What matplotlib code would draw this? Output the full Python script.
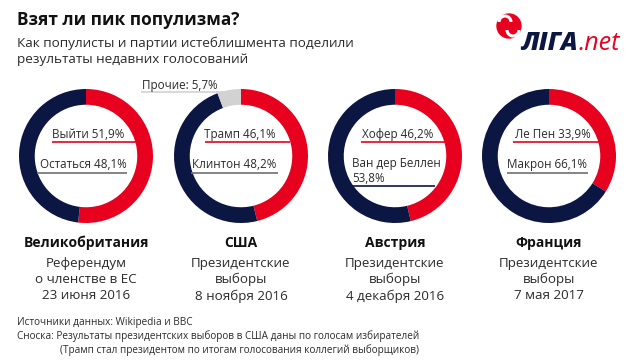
import matplotlib
matplotlib.use("Agg")
import matplotlib.pyplot as plt
from matplotlib.patches import Circle, Arc

# ---- data ----
countries = ["Великобритания", "США", "Австрия", "Франция"]
descriptions = ["Референдум\nо членстве в ЕС\n23 июня 2016",
                "Президентские\nвыборы\n8 ноября 2016",
                "Президентские\nвыборы\n4 декабря 2016",
                "Президентские\nвыборы\n7 мая 2017"]
populist_names = ["Выйти", "Трамп", "Хофер", "Ле Пен"]
populist_values = [51.9, 46.1, 46.2, 33.9]
establishment_names = ["Остаться", "Клинтон", "Ван дер Беллен\n", "Макрон"]
establishment_values = [48.1, 48.2, 53.8, 66.1]
other_values = [0.0, 5.7, 0.0, 0.0]
other_label = "Прочие"

RED = "#E8001F"
NAVY = "#0B1643"
LGRAY = "#D2D2D2"
ULGRAY = "#6E6E74"
TXT = "#2B2B2B"

W, H = 640, 364
fig = plt.figure(figsize=(W / 100, H / 100), dpi=100)
fig.patch.set_facecolor("white")

centers_x = [86, 241, 395, 549]
cy = 156
R = 67

def fmt(v):
    return f"{v:.1f}%".replace(".", ",")

for i, cx in enumerate(centers_x):
    pax = fig.add_axes([(cx - R) / W, (H - cy - R) / H, 2 * R / W, 2 * R / H])
    vals = [populist_values[i], establishment_values[i]]
    cols = [RED, NAVY]
    if other_values[i] > 0:
        vals.append(other_values[i])
        cols.append(LGRAY)
    pax.pie(vals, colors=cols, startangle=90, counterclock=False, radius=1,
            wedgeprops=dict(width=0.235, edgecolor="none"))
    pax.set_xlim(-1, 1)
    pax.set_ylim(-1, 1)
    pax.axis("off")

ax = fig.add_axes([0, 0, 1, 1])
ax.set_xlim(0, W)
ax.set_ylim(H, 0)
ax.axis("off")
ax.patch.set_alpha(0)

LF = "Open Sans"
lfs = 8.4

# populist labels (text centre x offset, line start/end offsets)
pop_layout = [(2, -34, 51), (-1, -36, 49), (3, -34, 51), (4, -36, 50)]
est_layout = [(-3, -49, 41), (-7, -50, 37), None, (-2, -42, 39)]

for i, cx in enumerate(centers_x):
    dx, l0, l1 = pop_layout[i]
    ax.text(cx + dx, 134.5, f"{populist_names[i]} {fmt(populist_values[i])}",
            ha="center", va="center", fontsize=lfs, family=LF, color=TXT)
    ax.plot([cx + l0, cx + l1], [142, 142], color=RED, lw=1.2, solid_capstyle="butt")
    if est_layout[i] is not None:
        dx, l0, l1 = est_layout[i]
        ax.text(cx + dx, 164.5, f"{establishment_names[i]} {fmt(establishment_values[i])}",
                ha="center", va="center", fontsize=lfs, family=LF, color=TXT)
        ax.plot([cx + l0, cx + l1], [173, 173], color=ULGRAY, lw=1.2, solid_capstyle="butt")
    else:
        ax.text(cx - 43, 171.5, f"{establishment_names[i]}{fmt(establishment_values[i])}",
                ha="left", va="center", fontsize=lfs, family=LF, color=TXT,
                linespacing=1.2)
        ax.plot([cx - 43, cx + 40], [186, 186], color=NAVY, lw=1.2, solid_capstyle="butt")
    if other_values[i] > 0:
        ax.text(cx - 99, 85, f"{other_label}: {fmt(other_values[i])}",
                ha="left", va="center", fontsize=lfs, family=LF, color=TXT)
        ax.plot([cx - 100, cx - 15], [91.5, 91.5], color=LGRAY, lw=1.2, solid_capstyle="butt")

    ax.text(cx, 243, countries[i], ha="center", va="center", fontsize=10,
            family=LF, weight="bold", color="#111111")
    ax.text(cx, 256.5, descriptions[i], ha="center", va="top", fontsize=9.6,
            family=LF, color=TXT, linespacing=1.32)

# title & subtitle
ax.text(17, 20, "Взят ли пик популизма?", ha="left", va="center", fontsize=12.4,
        family=LF, weight="bold", color="#111111")
ax.text(17, 51, "Как популисты и партии истеблишмента поделили\nрезультаты недавних голосований",
        ha="left", va="center", fontsize=9.7, family=LF, color=TXT, linespacing=1.3)

# footer
ffs = 7.2
ax.text(17, 322, "Источники данных: Wikipedia и BBC", ha="left", va="center",
        fontsize=ffs, family=LF, color=TXT)
ax.text(17, 336, "Сноска: Результаты президентских выборов в США даны по голосам избирателей",
        ha="left", va="center", fontsize=ffs, family=LF, color=TXT)
ax.text(60, 350, "(Трамп стал президентом по итогам голосования коллегий выборщиков)",
        ha="left", va="center", fontsize=ffs, family=LF, color=TXT)

# logo
ax.add_patch(Circle((509, 26), 12, color=RED, zorder=5))
ax.add_patch(Arc((505, 22), 12, 12, theta1=180, theta2=360, color="white", lw=2.2, zorder=6))
ax.add_patch(Arc((513, 30), 12, 12, theta1=0, theta2=180, color="white", lw=2.2, zorder=6))
t1 = ax.text(521, 50, "ЛІГА", ha="left", va="baseline", fontsize=18, family=LF,
             weight="heavy", style="italic", color=NAVY)
fig.canvas.draw()
bb = t1.get_window_extent(renderer=fig.canvas.get_renderer())
inv = ax.transData.inverted()
x_end = inv.transform((bb.x1, bb.y0))[0]
ax.text(x_end + 1, 50, ".net", ha="left", va="baseline", fontsize=18, family=LF,
        style="italic", color=RED)

fig.savefig("out.png", dpi=100, facecolor="white")
